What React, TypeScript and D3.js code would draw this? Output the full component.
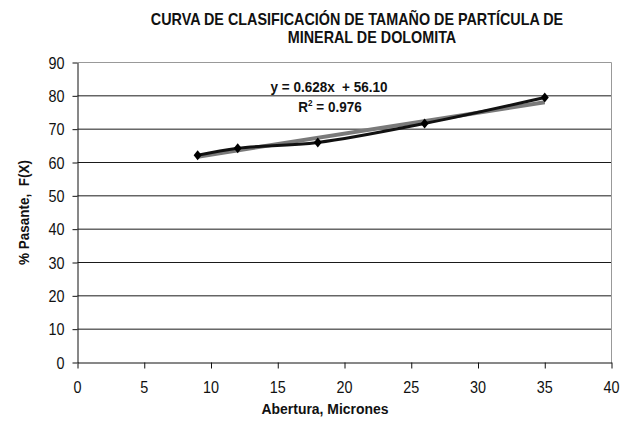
import React, { useEffect, useRef } from 'react';
import * as d3 from 'd3';

// Abertura (micrones) vs % pasante
const abertura = [9, 12, 18, 26, 35];
const pasante = [62.2, 64.3, 66.0, 71.7, 79.5];

const xTicks = [0, 5, 10, 15, 20, 25, 30, 35, 40];
const yTicks = [0, 10, 20, 30, 40, 50, 60, 70, 80, 90];

// trendline
const slope = 0.628;
const intercept = 56.1;

const titleLines = ['CURVA DE CLASIFICACIÓN DE TAMAÑO DE PARTÍCULA DE', 'MINERAL DE DOLOMITA'];

const FONT = '"Liberation Sans", Arial, sans-serif';

const App: React.FC = () => {
  const svgRef = useRef<SVGSVGElement>(null);

  useEffect(() => {
    const svg = d3.select(svgRef.current);
    svg.selectAll('*').remove();

    const width = 625;
    const height = 421;
    const margin = { top: 62.5, right: 13.5, bottom: 58.5, left: 77.5 };

    svg.append('rect').attr('width', width).attr('height', height).attr('fill', '#fff');

    const x = d3.scaleLinear().domain([0, 40]).range([margin.left, width - margin.right]);
    const y = d3.scaleLinear().domain([0, 90]).range([height - margin.bottom, margin.top]);

    // narrow-looking text: squeeze Liberation Sans horizontally
    const label = (tx: number, ty: number, str: string, size: number, bold: boolean,
      anchor: string, sx: number, rotate = 0) => {
      const t = svg.append('g')
        .attr('transform', `translate(${tx},${ty}) rotate(${rotate}) scale(${sx},1)`)
        .append('text')
        .attr('text-anchor', anchor)
        .attr('font-family', FONT)
        .attr('font-size', size)
        .attr('font-weight', bold ? 'bold' : 'normal')
        .attr('fill', '#111')
        .attr('xml:space', 'preserve');
      t.text(str);
      return t;
    };

    // gridlines
    svg.append('g')
      .selectAll('line')
      .data(yTicks.filter(t => t > 0 && t < 90))
      .enter().append('line')
      .attr('x1', x(0)).attr('x2', x(40))
      .attr('y1', d => y(d)).attr('y2', d => y(d))
      .attr('stroke', '#1a1a1a')
      .attr('stroke-width', 1);

    // plot border (top/right)
    svg.append('path')
      .attr('d', `M${x(0)},${y(90)}H${x(40)}V${y(0)}`)
      .attr('fill', 'none')
      .attr('stroke', '#999')
      .attr('stroke-width', 1);

    // axes (lines + ticks only, labels drawn below)
    const xAxis = svg.append('g')
      .attr('transform', `translate(0,${y(0)})`)
      .call(d3.axisBottom(x).tickValues(xTicks).tickSize(6).tickFormat(() => '').tickSizeOuter(0));
    const yAxis = svg.append('g')
      .attr('transform', `translate(${x(0)},0)`)
      .call(d3.axisLeft(y).tickValues(yTicks).tickSize(5).tickFormat(() => '').tickSizeOuter(0));
    [xAxis, yAxis].forEach(a => {
      a.select('.domain').attr('stroke', '#111');
      a.selectAll('.tick line').attr('stroke', '#111');
    });

    xTicks.forEach(t => label(x(t), 393, String(t), 16, false, 'middle', 0.9));
    yTicks.forEach(t => label(x(0) - 13, y(t) + 6, String(t), 16, false, 'end', 0.9));

    // trendline
    svg.append('line')
      .attr('x1', x(abertura[0])).attr('y1', y(slope * abertura[0] + intercept))
      .attr('x2', x(abertura[abertura.length - 1]))
      .attr('y2', y(slope * abertura[abertura.length - 1] + intercept))
      .attr('stroke', '#7a7a7a')
      .attr('stroke-width', 4);

    // smoothed series line
    const pts: [number, number][] = abertura.map((d, i) => [d, pasante[i]]);
    const line = d3.line<[number, number]>()
      .x(d => x(d[0]))
      .y(d => y(d[1]))
      .curve(d3.curveCatmullRom.alpha(0.5));

    svg.append('path')
      .datum(pts)
      .attr('d', line)
      .attr('fill', 'none')
      .attr('stroke', '#111')
      .attr('stroke-width', 3);

    // diamond markers
    svg.selectAll('.marker')
      .data(pts)
      .enter().append('path')
      .attr('class', 'marker')
      .attr('transform', d => `translate(${x(d[0])},${y(d[1])})`)
      .attr('d', 'M0,-5L4,0L0,5L-4,0Z')
      .attr('fill', '#000');

    // equation labels
    label(329, 92, 'y = 0.628x  + 56.10', 15, true, 'middle', 0.9);
    const r2 = label(330, 112, 'R', 15, true, 'middle', 0.9);
    r2.text('');
    r2.append('tspan').text('R');
    r2.append('tspan').attr('font-size', 9).attr('dy', -6).text('2');
    r2.append('tspan').attr('dy', 6).text(' = 0.976');

    // title
    label(357, 25, titleLines[0], 16.5, true, 'middle', 0.87);
    label(372, 43, titleLines[1], 16.5, true, 'middle', 0.87);

    // axis titles
    label(325, 414, 'Abertura, Micrones', 15.5, true, 'middle', 0.9);
    label(29, y(45), '% Pasante,  F(X)', 15, true, 'middle', 0.9, -90);
  }, []);

  return (
    <svg
      ref={svgRef}
      width={625}
      height={421}
      style={{ position: 'absolute', left: 0, top: 0 }}
    ></svg>
  );
};

export default App;
